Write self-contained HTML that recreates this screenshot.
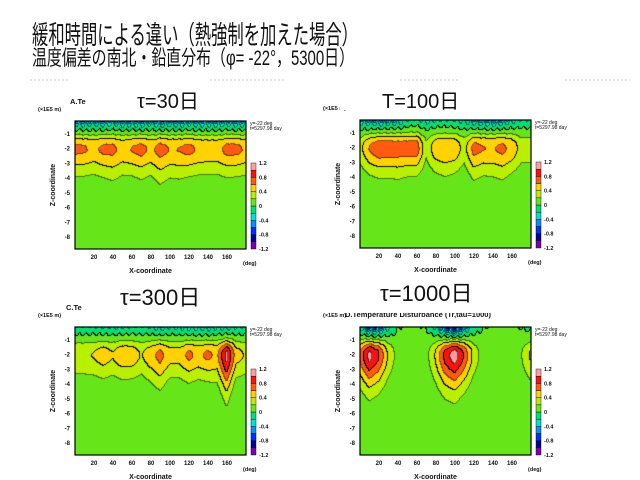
<!DOCTYPE html>
<html><head><meta charset="utf-8">
<style>
html,body{margin:0;padding:0;background:#fff;}
#root{position:relative;width:640px;height:480px;overflow:hidden;font-family:"Liberation Sans","Noto Sans CJK JP",sans-serif;}
canvas{position:absolute;}
svg{position:absolute;left:0;top:0;}
</style></head>
<body>
<div id="root">
<svg id="svg" width="640" height="480">
  <text x="32" y="44" font-size="26" textLength="326" lengthAdjust="spacingAndGlyphs" fill="#111" font-family="Liberation Sans, Noto Sans CJK JP, sans-serif">緩和時間による違い（熱強制を加えた場合）</text>
  <text x="32" y="65" font-size="21" textLength="322" lengthAdjust="spacingAndGlyphs" fill="#111" font-family="Liberation Sans, Noto Sans CJK JP, sans-serif">温度偏差の南北・鉛直分布（φ= -22°，5300日）</text>
  <g stroke="#b8cfe8" stroke-width="1" stroke-dasharray="2,2">
    <line x1="30" y1="80" x2="70" y2="80"/><line x1="210" y1="80" x2="285" y2="80"/>
    <line x1="400" y1="80" x2="460" y2="80"/><line x1="565" y1="80" x2="630" y2="80"/>
  </g>
</svg>
</div>
<script>
// colour levels (-1.2 .. 1.2 step 0.2)
const levels = [-1.2,-1.0,-0.8,-0.6,-0.4,-0.2,0,0.2,0.4,0.6,0.8,1.0,1.2];
const levelColors = ['#8000b0','#0000a0','#0030ff','#0090ff','#00e0d0','#00e070','#66e619','#b8f000','#ffd200','#ff5a10','#ff1010','#ffa0a0'];
const cbLabels = ['1.2','0.8','0.4','0','-0.4','-0.8','-1.2'];
const xTicks = [20,40,60,80,100,120,140,160];
const zTicks = [-1,-2,-3,-4,-5,-6,-7,-8];
const xSamples = [0,10,20,30,40,50,60,70,80,90,100,110,120,130,140,150,160,170,180];

// panel A (tau=30)
const ampA  = [0.62,0.6,0.52,0.62,0.62,0.52,0.58,0.64,0.53,0.65,0.57,0.58,0.63,0.55,0.53,0.52,0.63,0.63,0.55];
const lowA  = [1.55,1.55,1.55,1.6,1.8,1.6,1.55,1.7,1.6,1.95,1.7,1.75,1.55,1.55,1.55,1.55,1.6,1.55,1.55];
const topA  = [0.6,0.65,0.55,0.65,0.5,0.65,0.6,0.65,0.55,0.7,0.6,0.65,0.55,0.65,0.6,0.65,0.55,0.65,0.6];
// panel B (tau=100)
const ampB  = [0.28,0.58,0.72,0.7,0.68,0.68,0.7,0.22,0.5,0.55,0.52,0.28,0.64,0.58,0.56,0.62,0.52,0.28,0.28];
const lowB  = [1.45,1.55,1.6,1.6,1.7,1.55,1.5,1.45,1.55,1.7,1.55,1.45,1.8,1.6,1.7,1.8,1.55,1.45,1.45];
const topB  = [0.5,0.6,0.65,0.6,0.55,0.3,0.2,0.45,0.3,0.25,0.3,0.4,0.55,0.6,0.7,0.6,0.4,0.25,0.3];
// panel C (tau=300)
const ampC  = [0.35,0.35,0.38,0.48,0.38,0.52,0.5,0.35,0.5,0.64,0.45,0.45,0.62,0.52,0.62,0.52,1.05,0.45,0.35];
const lowC  = [1.5,1.5,1.5,1.5,1.5,1.5,1.5,1.5,1.7,2.0,1.5,1.5,1.6,1.5,1.5,1.7,2.4,1.5,1.5];
const topC  = [0.25,0.25,0.25,0.3,0.3,0.3,0.25,0.25,0.3,0.45,0.3,0.35,0.4,0.4,0.45,0.35,0.4,0.3,0.25];
// panel D (tau=1000)
const ampD  = [0.6,1.05,0.8,0.35,0.08,0,0,0.08,0.4,0.85,1.1,0.75,0.3,0.06,0,0,0.03,0.15,0.4];
const lowD  = [1.9,2.1,2.0,1.8,1.6,1.6,1.6,1.7,2.0,2.2,2.2,2.0,1.8,1.6,1.6,1.6,1.6,1.7,1.8];
const topD  = [0.3,0.9,0.85,0.4,0.05,0.02,0.02,0.05,0.35,0.95,1.2,0.7,0.2,0.05,0.02,0.02,0.02,0.05,0.1];

const panels = [
  {id:'a',x:75,y:121,amp:ampA,low:lowA,top:topA,title:'A.Te',label:'τ=30日',lx:137,ly:108,ls:20,tx:70,ty:104,mx:0,my:0,mw:0,mh:0},
  {id:'b',x:360,y:120,amp:ampB,low:lowB,top:topB,title:'B.Temperature Disturbance (Tr,tau=100)',label:'T=100日',lx:382,ly:108,ls:20,tx:345,ty:103,mx:340,my:88,mw:178,mh:22},
  {id:'c',x:75,y:327,amp:ampC,low:lowC,top:topC,title:'C.Temperature Disturbance (Tr,tau=300)',label:'τ=300日',lx:120,ly:305,ls:22,tx:66,ty:310,mx:82,my:285,mw:172,mh:30},
  {id:'d',x:360,y:327,amp:ampD,low:lowD,top:topD,title:'D.Temperature Disturbance (Tr,tau=1000)',label:'τ=1000日',lx:380,ly:301,ls:22,tx:345,ty:317,mx:340,my:280,mw:210,mh:33}
];
const PW=171, PH=128, Z0=-0.12, Z1=-8.8;
function sx(p,x){return p.x + x/180*PW;}
function sz(p,z){return p.y + (Z0-z)/(Z0-Z1)*PH;}
function interp(arr,x){const t=Math.max(0,Math.min(17.999,x/10));const i=Math.floor(t),f=t-i;return arr[i]*(1-f)+arr[i+1]*f;}
function field(p,x,z){
  const a=interp(p.amp,x), lw=interp(p.low,x), ta=interp(p.top,x);
  const zc=-2.1, d=z-zc;
  let g = d>0 ? Math.exp(-Math.pow(d/1.04,2.7)) : Math.exp(-Math.pow(-d/lw,1.6));
  let v = a*g + 0.03;
  v -= ta*Math.exp((z+0.12)/0.45)*(0.8+0.35*Math.sin(x*0.9));
  return v;
}
function lvl(v){let k=Math.floor((v+1.2)/0.2+1e-9);return Math.max(0,Math.min(11,k));}
function hex(c){return [parseInt(c.substr(1,2),16),parseInt(c.substr(3,2),16),parseInt(c.substr(5,2),16)];}

const root=document.getElementById('root');
const svg=document.getElementById('svg');
const NS='http://www.w3.org/2000/svg';
function T(x,y,s,txt,name,opt){const t=document.createElementNS(NS,'text');t.setAttribute('x',x);t.setAttribute('y',y);t.setAttribute('font-size',s);t.setAttribute('fill',(opt&&opt.fill)||'#111');if(opt&&opt.anchor)t.setAttribute('text-anchor',opt.anchor);if(opt&&opt.weight)t.setAttribute('font-weight',opt.weight);if(opt&&opt.rot)t.setAttribute('transform',opt.rot);t.textContent=txt;


svg.appendChild(t);return t;}

panels.forEach(p=>{
  const cv=document.createElement('canvas');cv.width=PW;cv.height=PH;cv.style.left=p.x+'px';cv.style.top=p.y+'px';
  
  
  root.insertBefore(cv,svg);
  const ctx=cv.getContext('2d');const img=ctx.createImageData(PW,PH);
  const L=[];
  for(let j=0;j<PH;j++){L[j]=[];for(let i=0;i<PW;i++){const x=(i+0.5)/PW*180;const z=Z0-(j+0.5)/PH*(Z0-Z1);L[j][i]=lvl(field(p,x,z));}}
  for(let j=0;j<PH;j++)for(let i=0;i<PW;i++){
    const k=L[j][i];let c=hex(levelColors[k]);
    const r=i+1<PW?L[j][i+1]:k, b=j+1<PH?L[j+1][i]:k;
    if(r!==k||b!==k){const m=Math.max(k,r,b);const major=(m===6||m===8||m===10);c=major?[0,0,0]:c.map(v=>v*0.45);}
    const o=(j*PW+i)*4;img.data[o]=c[0];img.data[o+1]=c[1];img.data[o+2]=c[2];img.data[o+3]=255;}
  ctx.putImageData(img,0,0);
  const fr=document.createElementNS(NS,'rect');fr.setAttribute('x',p.x);fr.setAttribute('y',p.y);fr.setAttribute('width',PW);fr.setAttribute('height',PH);fr.setAttribute('fill','none');fr.setAttribute('stroke','#000');fr.setAttribute('stroke-width','1.2');
  
  
  svg.appendChild(fr);
  xTicks.forEach(v=>{T(sx(p,v),p.y+PH+10,6,String(v),'x-tick-label',{anchor:'middle',weight:'bold'});});
  zTicks.forEach(v=>{T(p.x-5,sz(p,v)+2,6,String(v),'z-tick-label',{anchor:'end',weight:'bold'});});
  T(p.x+PW-3,p.y+PH+16,5.5,'(deg)','x-unit-label',{weight:'bold'});
  T(p.x+PW/2-10,p.y+PH+24,7,'X-coordinate','x-axis-title',{anchor:'middle',weight:'bold'});
  T(p.x-20,p.y+PH/2,7,'Z-coordinate','z-axis-title',{anchor:'middle',weight:'bold',rot:'rotate(-90 '+(p.x-20)+' '+(p.y+PH/2)+')'});
  T(p.x-37,p.y-10,5.5,'(×1E5 m)','z-unit-label',{weight:'bold'});
  T(p.x+PW+4,p.y+4,5,'y=-22 deg','y-info');
  T(p.x+PW+4,p.y+9,5,'t=5297.98 day','time-info');
  T(p.tx,p.ty,7.5,p.title,'panel-title',{weight:'bold'});
  const cbx=p.x+PW+5, cby=p.y+42, cbh=PH-42, seg=cbh/12;
  levelColors.forEach((c,k)=>{const r=document.createElementNS(NS,'rect');r.setAttribute('x',cbx);r.setAttribute('y',cby+(11-k)*seg);r.setAttribute('width',5);r.setAttribute('height',seg);r.setAttribute('fill',c);r.setAttribute('stroke','#000');r.setAttribute('stroke-width','0.4');
  
  
  svg.appendChild(r);});
  cbLabels.forEach((s,k)=>{T(cbx+8,cby+k*2*seg+2,5.5,s,'colorbar-label',{weight:'bold'});});
  if(p.mw>0){const bg=document.createElementNS(NS,'rect');
  bg.setAttribute('x',p.mx);bg.setAttribute('y',p.my);bg.setAttribute('width',p.mw);bg.setAttribute('height',p.mh);bg.setAttribute('fill','#fff');
  
  
  svg.appendChild(bg);}
  T(p.lx,p.ly,p.ls,p.label,'panel-label-'+p.id);
});
</script>
</body></html>
